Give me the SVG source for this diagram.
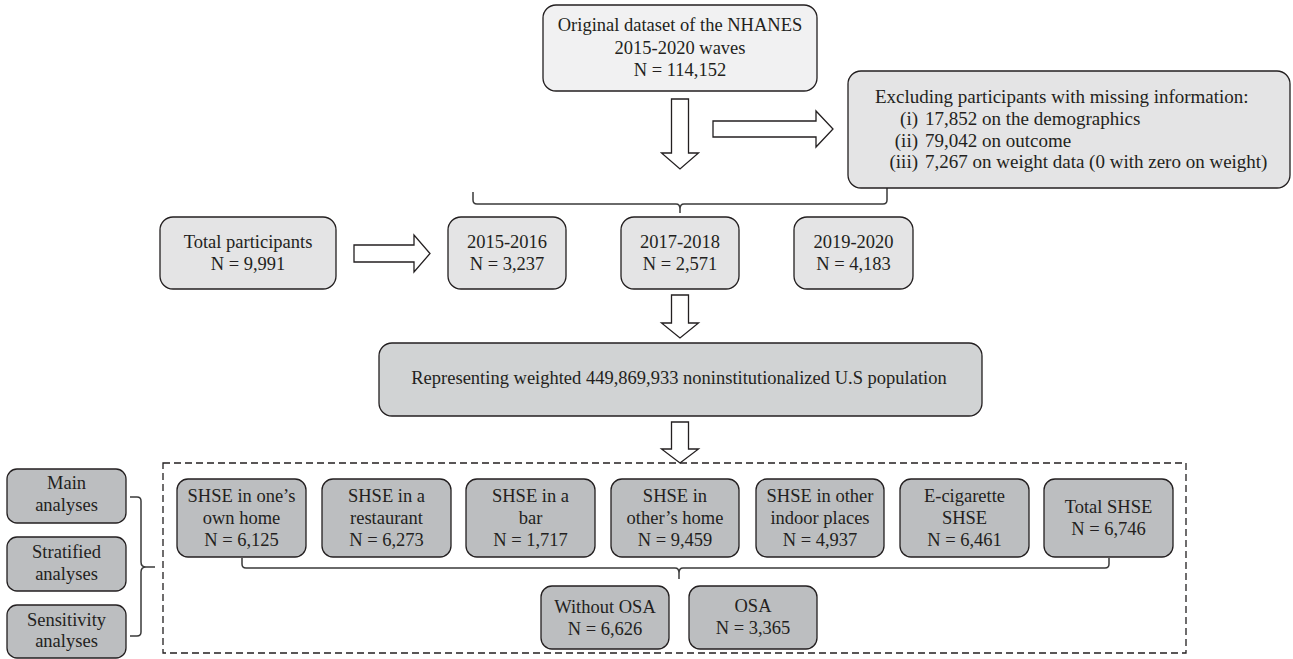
<svg xmlns="http://www.w3.org/2000/svg" width="1293" height="659" viewBox="0 0 1293 659">
<style>
  .box { stroke: #231f20; stroke-width: 1.3; }
  .l0 { fill: #f1f1f2; }
  .l1 { fill: #e4e4e5; }
  .l2 { fill: #d1d3d4; }
  .l3 { fill: #bcbec0; }
  .t { font-family: "Liberation Serif", "Times New Roman", serif; font-size: 18.5px; fill: #231f20; text-anchor: middle; }
  .tx { font-size: 19px; }
  .ts { text-anchor: start; }
  .te { text-anchor: end; }
  .arrow { fill: #ffffff; stroke: #231f20; stroke-width: 1.3; stroke-linejoin: miter; }
  .conn { fill: none; stroke: #3a3a3a; stroke-width: 1.5; }
  .dash { fill: none; stroke: #231f20; stroke-width: 1.3; stroke-dasharray: 7 4; }
</style>

<g id="connectors">
  <polygon class="arrow" points="671.5,99 688.5,99 688.5,153 698.5,153 680,169 661.5,153 671.5,153"/>
  <polygon class="arrow" points="713,121 816,121 816,111 833,129 816,147 816,137 713,137"/>
  <polygon class="arrow" points="354,245 414,245 414,235 430,253.5 414,272 414,262 354,262"/>
  <polygon class="arrow" points="671.5,295 688.5,295 688.5,323 698.5,323 680,338 661.5,323 671.5,323"/>
  <polygon class="arrow" points="671.5,422 688.5,422 688.5,449 698.5,449 680,463 661.5,449 671.5,449"/>
  <path class="conn" d="M473,192 V200 Q473,204 477,204 H676 Q680,204 680,209 V213 M680,209 Q680,204 684,204 H883 Q887,204 887,200 V188"/>
  <path class="conn" d="M242,558 V564 Q242,568 246,568 H675 Q679,568 679,573 V579 M679,573 Q679,568 683,568 H1105 Q1109,568 1109,564 V558"/>
  <path class="conn" d="M130,497 H137 Q141,497 141,501 V562 Q141,567 146,567 H155 M146,567 Q141,567 141,572 V632 Q141,636 137,636 H130"/>
  <rect class="dash" x="163" y="463" width="1023" height="190"/>
</g>

<g id="n-original">
  <rect class="box l0" x="543" y="5" width="274" height="86" rx="13"/>
  <text class="t" x="680" y="31">Original dataset of the NHANES</text>
  <text class="t" x="680" y="54">2015-2020 waves</text>
  <text class="t" x="680" y="76">N = 114,152</text>
</g>

<g id="n-excluding">
  <rect class="box l1" x="848" y="71" width="442" height="117" rx="13"/>
  <text class="t tx ts" x="875" y="103">Excluding participants with missing information:</text>
  <text class="t tx te" x="918" y="125">(i)</text>
  <text class="t tx ts" x="925" y="125">17,852 on the demographics</text>
  <text class="t tx te" x="918" y="147">(ii)</text>
  <text class="t tx ts" x="925" y="147">79,042 on outcome</text>
  <text class="t tx te" x="918" y="168">(iii)</text>
  <text class="t tx ts" x="925" y="168">7,267 on weight data (0 with zero on weight)</text>
</g>

<g id="n-total">
  <rect class="box l1" x="160" y="217" width="176" height="72" rx="13"/>
  <text class="t" x="248" y="248">Total participants</text>
  <text class="t" x="248" y="270">N = 9,991</text>
</g>

<g id="n-2015">
  <rect class="box l1" x="448" y="217" width="118" height="72" rx="13"/>
  <text class="t" x="507" y="248">2015-2016</text>
  <text class="t" x="507" y="270">N = 3,237</text>
</g>

<g id="n-2017">
  <rect class="box l1" x="621" y="217" width="118" height="72" rx="13"/>
  <text class="t" x="680" y="248">2017-2018</text>
  <text class="t" x="680" y="270">N = 2,571</text>
</g>

<g id="n-2019">
  <rect class="box l1" x="794" y="217" width="119" height="72" rx="13"/>
  <text class="t" x="853.5" y="248">2019-2020</text>
  <text class="t" x="853.5" y="270">N = 4,183</text>
</g>

<g id="n-representing">
  <rect class="box l2" x="379" y="343" width="603" height="73" rx="13"/>
  <text class="t" x="679" y="384">Representing weighted 449,869,933 noninstitutionalized U.S population</text>
</g>

<g id="n-main">
  <rect class="box l3" x="7" y="469" width="119" height="54" rx="10"/>
  <text class="t" x="66.5" y="489">Main</text>
  <text class="t" x="66.5" y="511">analyses</text>
</g>
<g id="n-stratified">
  <rect class="box l3" x="7" y="537" width="119" height="54" rx="10"/>
  <text class="t" x="66.5" y="558">Stratified</text>
  <text class="t" x="66.5" y="580">analyses</text>
</g>
<g id="n-sensitivity">
  <rect class="box l3" x="7" y="605" width="119" height="53" rx="10"/>
  <text class="t" x="66.5" y="626">Sensitivity</text>
  <text class="t" x="66.5" y="647">analyses</text>
</g>

<g id="n-own-home">
  <rect class="box l3" x="177" y="479" width="129" height="78" rx="11"/>
  <text class="t" x="241.5" y="502">SHSE in one’s</text>
  <text class="t" x="241.5" y="524">own home</text>
  <text class="t" x="241.5" y="546">N = 6,125</text>
</g>
<g id="n-restaurant">
  <rect class="box l3" x="322" y="479" width="129" height="78" rx="11"/>
  <text class="t" x="386.5" y="502">SHSE in a</text>
  <text class="t" x="386.5" y="524">restaurant</text>
  <text class="t" x="386.5" y="546">N = 6,273</text>
</g>
<g id="n-bar">
  <rect class="box l3" x="466" y="479" width="129" height="78" rx="11"/>
  <text class="t" x="530.5" y="502">SHSE in a</text>
  <text class="t" x="530.5" y="524">bar</text>
  <text class="t" x="530.5" y="546">N = 1,717</text>
</g>
<g id="n-others-home">
  <rect class="box l3" x="611" y="479" width="128" height="78" rx="11"/>
  <text class="t" x="675" y="502">SHSE in</text>
  <text class="t" x="675" y="524">other’s home</text>
  <text class="t" x="675" y="546">N = 9,459</text>
</g>
<g id="n-other-indoor">
  <rect class="box l3" x="756" y="479" width="128" height="78" rx="11"/>
  <text class="t" x="820" y="502">SHSE in other</text>
  <text class="t" x="820" y="524">indoor places</text>
  <text class="t" x="820" y="546">N = 4,937</text>
</g>
<g id="n-ecig">
  <rect class="box l3" x="900" y="479" width="129" height="78" rx="11"/>
  <text class="t" x="964.5" y="502">E-cigarette</text>
  <text class="t" x="964.5" y="524">SHSE</text>
  <text class="t" x="964.5" y="546">N = 6,461</text>
</g>
<g id="n-total-shse">
  <rect class="box l3" x="1044" y="479" width="129" height="78" rx="11"/>
  <text class="t" x="1108.5" y="513">Total SHSE</text>
  <text class="t" x="1108.5" y="535">N = 6,746</text>
</g>

<g id="n-without-osa">
  <rect class="box l3" x="541" y="586" width="128" height="63" rx="11"/>
  <text class="t" x="605" y="613">Without OSA</text>
  <text class="t" x="605" y="635">N = 6,626</text>
</g>
<g id="n-osa">
  <rect class="box l3" x="689" y="586" width="128" height="63" rx="11"/>
  <text class="t" x="753" y="612">OSA</text>
  <text class="t" x="753" y="634">N = 3,365</text>
</g>
</svg>
